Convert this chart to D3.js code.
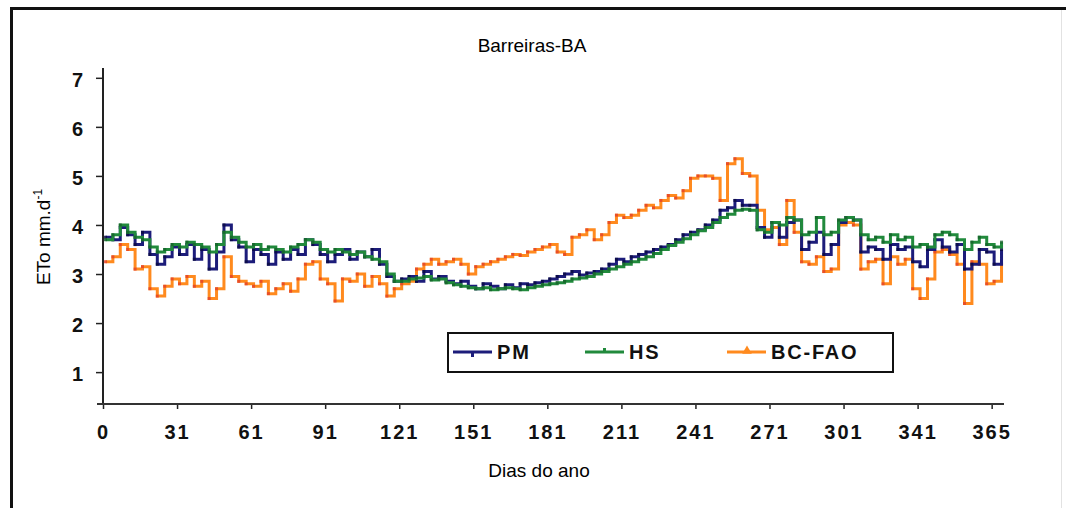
<!DOCTYPE html>
<html>
<head>
<meta charset="utf-8">
<script src="https://cdn.jsdelivr.net/npm/d3@7"></script>
<style>
  body { margin: 0; background: #fff; }
  svg { display: block; }
</style>
</head>
<body>
<svg id="chart" width="1066" height="508"></svg>
<script>
// values, one every 3 days (day 1, 4, 7 ... 364)
var days = d3.range(1, 366, 3);

var pm = [
  3.75, 3.7, 3.95, 3.8, 3.6, 3.85, 3.4, 3.2, 3.35, 3.55,
  3.4, 3.6, 3.3, 3.5, 3.1, 3.45, 4.0, 3.7, 3.55, 3.25,
  3.5, 3.4, 3.2, 3.45, 3.3, 3.5, 3.4, 3.7, 3.6, 3.4,
  3.25, 3.4, 3.5, 3.3, 3.45, 3.35, 3.5, 3.2, 2.95, 2.85,
  2.9, 2.95, 2.85, 3.05, 2.9, 2.95, 2.85, 2.8, 2.85, 2.75,
  2.7, 2.8, 2.75, 2.7, 2.78, 2.72, 2.8, 2.78, 2.82, 2.85,
  2.9, 2.95, 3.0, 3.05, 2.98, 3.02, 3.05, 3.1, 3.2, 3.3,
  3.25, 3.35, 3.4, 3.45, 3.5, 3.55, 3.6, 3.7, 3.8, 3.85,
  3.9, 4.0, 4.1, 4.3, 4.35, 4.5, 4.4, 4.4, 3.95, 3.75,
  4.05, 3.75, 4.05, 4.1, 3.5, 3.65, 3.85, 3.4, 3.6, 4.05,
  4.15, 4.1, 3.45, 3.55, 3.5, 3.3, 3.6, 3.5, 3.55, 3.25,
  3.15, 3.5, 3.7, 3.55, 3.45, 3.6, 3.1, 3.2, 3.5, 3.45,
  3.2, 3.5
];

var hs = [
  3.7, 3.8, 4.0, 3.85, 3.75, 3.7, 3.55, 3.45, 3.5, 3.6,
  3.55, 3.65, 3.6, 3.55, 3.45, 3.6, 3.85, 3.75, 3.65, 3.55,
  3.6, 3.5, 3.55, 3.5, 3.45, 3.55, 3.6, 3.7, 3.65, 3.5,
  3.45, 3.5, 3.45, 3.4, 3.45, 3.35, 3.3, 3.25, 3.0, 2.85,
  2.85, 2.9, 2.92, 2.95, 2.88, 2.9, 2.82, 2.78, 2.75, 2.72,
  2.7, 2.72, 2.68, 2.7, 2.72, 2.7, 2.68, 2.72, 2.75, 2.78,
  2.8, 2.82, 2.85, 2.9, 2.92, 2.95, 3.0, 3.05, 3.1, 3.15,
  3.2, 3.25, 3.3, 3.35, 3.42, 3.5, 3.58, 3.65, 3.72, 3.8,
  3.88, 3.95, 4.05, 4.15, 4.22, 4.3, 4.32, 4.3, 3.9, 3.85,
  4.05, 4.0, 4.15, 4.1, 3.8, 3.85, 4.15, 3.8, 3.85, 4.1,
  4.15, 4.1, 3.8, 3.7, 3.75, 3.65, 3.8, 3.7, 3.75, 3.55,
  3.6, 3.55, 3.8, 3.85, 3.8, 3.7, 3.5, 3.65, 3.75, 3.6,
  3.55, 3.65
];

var bcfao = [
  3.25, 3.35, 3.6, 3.5, 3.1, 3.15, 2.7, 2.55, 2.75, 2.9,
  2.8, 2.95, 2.75, 2.85, 2.5, 2.7, 3.35, 2.95, 2.85, 2.8,
  2.75, 2.85, 2.6, 2.7, 2.8, 2.65, 2.9, 3.2, 3.25, 2.9,
  2.8, 2.45, 2.9, 2.85, 3.0, 2.75, 2.95, 2.8, 2.55, 2.7,
  2.8, 2.85, 3.1, 3.2, 3.3, 3.2, 3.25, 3.3, 3.2, 3.0,
  3.15, 3.2, 3.25, 3.3, 3.35, 3.4, 3.38, 3.45, 3.5, 3.55,
  3.6, 3.45, 3.4, 3.75, 3.8, 3.9, 3.7, 3.8, 4.05, 4.2,
  4.15, 4.2, 4.3, 4.4, 4.35, 4.5, 4.6, 4.55, 4.7, 4.95,
  5.0, 5.0, 4.95, 4.5, 5.25, 5.35, 5.05, 5.0, 4.3, 3.9,
  3.95, 3.6, 4.5, 3.85, 3.25, 3.2, 3.35, 3.05, 3.1, 4.0,
  4.05, 4.0, 3.1, 3.25, 3.3, 2.8, 3.35, 3.2, 3.3, 2.7,
  2.5, 2.9, 3.45, 3.5, 3.4, 3.2, 2.4, 3.25, 3.2, 2.8,
  2.85, 3.2
];

var seriesNames = ["PM", "HS", "BC-FAO"];
var seriesColors = ["#1c1c7a", "#218a3c", "#ff8a1e"];
var markerColors = ["#0a0a40", "#17602a", "#e2402a"];

var yTicks = [1, 2, 3, 4, 5, 6, 7];
var xTickDays = [0, 30, 60, 90, 120, 150, 180, 210, 240, 270, 300, 330, 360];
var xTickLabels = ["0", "31", "61", "91", "121", "151", "181", "211", "241", "271", "301", "341", "365"];

var svg = d3.select("#chart");

// outer frame of the figure
svg.append("line").attr("x1", 10).attr("x2", 1066).attr("y1", 8.5).attr("y2", 8.5)
  .attr("stroke", "#111").attr("stroke-width", 3);
svg.append("line").attr("x1", 11.5).attr("x2", 11.5).attr("y1", 7).attr("y2", 508)
  .attr("stroke", "#111").attr("stroke-width", 3);
svg.append("line").attr("x1", 1061.5).attr("x2", 1061.5).attr("y1", 10).attr("y2", 508)
  .attr("stroke", "#e2e2e2").attr("stroke-width", 1);

var x = d3.scaleLinear().domain([0, 365]).range([103, 1004]);
var y = d3.scaleLinear().domain([0.35, 7.2]).range([404, 68]);

// title and axis titles
svg.append("text")
  .attr("x", 532).attr("y", 52)
  .attr("text-anchor", "middle")
  .style("font-family", "'Liberation Sans', Arial, sans-serif")
  .style("font-size", "19px")
  .text("Barreiras-BA");

svg.append("text")
  .attr("x", 539).attr("y", 477)
  .attr("text-anchor", "middle")
  .style("font-family", "'Liberation Sans', Arial, sans-serif")
  .style("font-size", "19px")
  .text("Dias do ano");

var ylab = svg.append("text")
  .attr("transform", "translate(50,237) rotate(-90)")
  .attr("text-anchor", "middle")
  .style("font-family", "'Liberation Sans', Arial, sans-serif")
  .style("font-size", "19px");
ylab.append("tspan").text("ETo mm.d");
ylab.append("tspan").attr("dy", -8).style("font-size", "12px").text("-1");

// axes
var tickFont = function (g) {
  g.selectAll("text")
    .style("font-family", "'Liberation Sans', Arial, sans-serif")
    .style("font-weight", "bold")
    .style("font-size", "20px")
    .style("letter-spacing", "2px")
    .attr("fill", "#111");
  g.selectAll(".tick line").attr("stroke", "#222").attr("stroke-width", 1.5);
};

var yAxis = svg.append("g")
  .attr("transform", "translate(103,0)")
  .call(d3.axisLeft(y).tickValues(yTicks).tickSize(7).tickPadding(11).tickFormat(d3.format("d")))
  .call(tickFont);
yAxis.select(".domain").remove();
yAxis.selectAll("text").attr("dy", "0.42em");

var xAxis = svg.append("g")
  .attr("transform", "translate(0,404)")
  .call(d3.axisBottom(x).tickValues(xTickDays).tickSize(5).tickPadding(16)
    .tickFormat(function (d, i) { return xTickLabels[i]; }))
  .call(tickFont);
xAxis.select(".domain").remove();

svg.append("line").attr("x1", 103).attr("x2", 103).attr("y1", 68).attr("y2", 405)
  .attr("stroke", "#222").attr("stroke-width", 2);
svg.append("line").attr("x1", 97).attr("x2", 1004).attr("y1", 404).attr("y2", 404)
  .attr("stroke", "#333").attr("stroke-width", 2);

// series, orange drawn first so the two close series sit on top
var allSeries = [pm, hs, bcfao];
var drawOrder = [2, 0, 1];

var line = d3.line()
  .x(function (d) { return x(d.day); })
  .y(function (d) { return y(d.v); })
  .curve(d3.curveStepAfter);

drawOrder.forEach(function (s) {
  var pts = days.map(function (d, i) { return { day: d, v: allSeries[s][i] }; });
  svg.append("path")
    .datum(pts)
    .attr("fill", "none")
    .attr("stroke", seriesColors[s])
    .attr("stroke-width", 3)
    .attr("d", line);
  svg.append("g").selectAll("rect")
    .data(pts)
    .enter().append("rect")
    .attr("x", function (d) { return x(d.day) - 1.5; })
    .attr("y", function (d) { return y(d.v) - 1.5; })
    .attr("width", 3)
    .attr("height", 3)
    .attr("fill", markerColors[s])
    .attr("opacity", 0.8);
});

// legend
var legend = svg.append("g");
legend.append("rect")
  .attr("x", 448).attr("y", 333).attr("width", 445).attr("height", 39)
  .attr("fill", "#fff").attr("stroke", "#111").attr("stroke-width", 2);

var legendX = [453, 585, 727];
seriesNames.forEach(function (name, i) {
  var lx = legendX[i];
  legend.append("line")
    .attr("x1", lx).attr("x2", lx + 39).attr("y1", 352).attr("y2", 352)
    .attr("stroke", seriesColors[i]).attr("stroke-width", 3);
  if (i === 0) {
    legend.append("rect").attr("x", lx + 18).attr("y", 352).attr("width", 3).attr("height", 5)
      .attr("fill", seriesColors[i]);
  } else if (i === 1) {
    legend.append("rect").attr("x", lx + 18).attr("y", 348).attr("width", 3).attr("height", 4)
      .attr("fill", seriesColors[i]);
  } else {
    legend.append("path")
      .attr("d", d3.symbol().type(d3.symbolTriangle).size(40)())
      .attr("transform", "translate(" + (lx + 20) + ",351)")
      .attr("fill", seriesColors[i]);
  }
  legend.append("text")
    .attr("x", lx + 44).attr("y", 359)
    .style("font-family", "'Liberation Sans', Arial, sans-serif")
    .style("font-weight", "bold")
    .style("font-size", "20px")
    .style("letter-spacing", "1.8px")
    .attr("fill", "#111")
    .text(name);
});
</script>
</body>
</html>
